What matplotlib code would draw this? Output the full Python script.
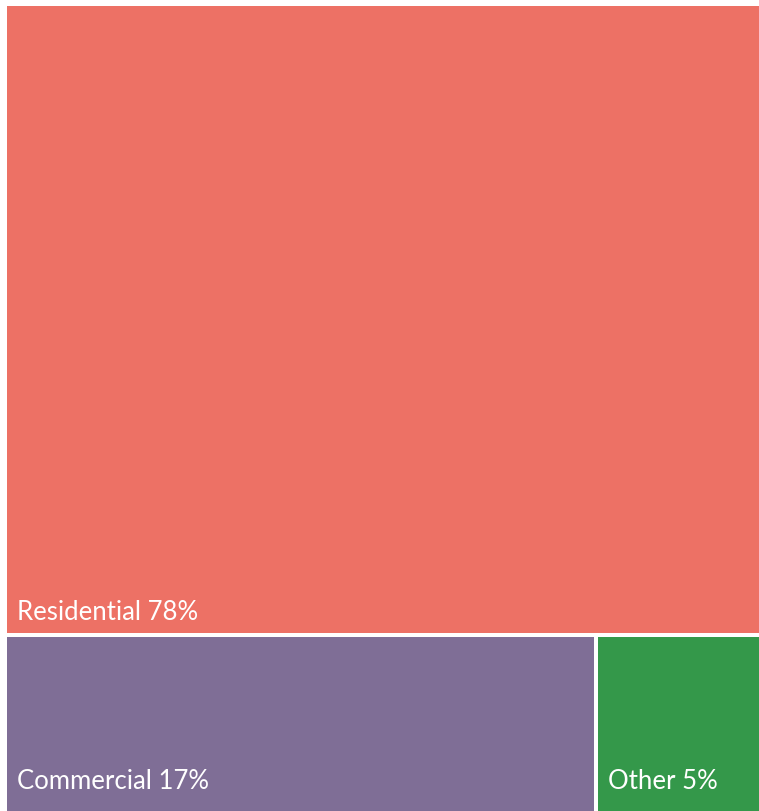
import matplotlib
matplotlib.use("Agg")
import matplotlib.pyplot as plt
from matplotlib.patches import Rectangle

# Share of total by sector
categories = ["Residential", "Commercial", "Other"]
shares = [78, 17, 5]
colors = ["#ED7165", "#7F6E96", "#34984A"]

W_PX, H_PX, DPI = 759, 811, 100
fig = plt.figure(figsize=(W_PX / DPI, H_PX / DPI), dpi=DPI)
fig.patch.set_facecolor("white")

# Plot region in pixels (extends a little past the canvas on the right/bottom)
x0, x1 = 5, 770
y0, y1 = 4, 813
ax = fig.add_axes([x0 / W_PX, 1 - y1 / H_PX, (x1 - x0) / W_PX, (y1 - y0) / H_PX])
pw, ph = x1 - x0, y1 - y0
ax.set_xlim(0, pw)
ax.set_ylim(ph, 0)  # y downward in pixels
ax.axis("off")

total = sum(shares)
gap = 2.0

# Slice-and-dice layout: first item takes a full-width row, rest share the bottom row
top_h = ph * shares[0] / total
rects = [(0, 0, pw, top_h)]
rest = sum(shares[1:])
cx = 0
for s in shares[1:]:
    w = pw * s / rest
    rects.append((cx, top_h, w, ph - top_h))
    cx += w

for (rx, ry, rw, rh), cat, s, c in zip(rects, categories, shares, colors):
    ax.add_patch(Rectangle((rx + gap, ry + gap), rw - 2 * gap, rh - 2 * gap,
                           facecolor=c, edgecolor="none"))

# Labels sit at the bottom-left of each tile
label_bottom = [620, 789, 789]
for (rx, ry, rw, rh), cat, s, yb in zip(rects, categories, shares, label_bottom):
    ax.text(rx + gap + 10, yb - y0, f"{cat} {s}%", color="white",
            fontsize=18.5, family=["Lato", "DejaVu Sans"],
            ha="left", va="baseline")

fig.savefig("out.png", dpi=DPI, facecolor="white")
